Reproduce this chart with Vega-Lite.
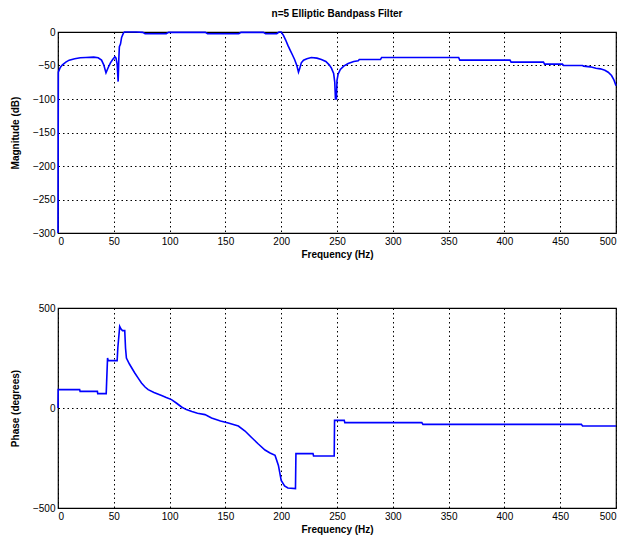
{
  "$schema": "https://vega.github.io/schema/vega-lite/v6.json",
  "background": "white",
  "padding": {"left": 9, "top": 8, "right": 8, "bottom": 5},
  "spacing": 42,
  "datasets": {
    "mag": [
      {"f":0,"db":-300},{"f":0.3,"db":-60},{"f":2,"db":-53},{"f":4,"db":-49},{"f":7,"db":-45},{"f":10,"db":-42},{"f":15,"db":-40},{"f":20,"db":-38.5},{"f":25,"db":-38},{"f":32,"db":-37.5},{"f":36,"db":-38.5},{"f":39,"db":-42},{"f":41,"db":-49},{"f":43,"db":-61},{"f":45,"db":-53},{"f":47,"db":-46},{"f":49,"db":-41},{"f":51,"db":-37},{"f":52,"db":-39},{"f":53,"db":-48},{"f":53.9,"db":-74},{"f":54.5,"db":-40},{"f":55,"db":-22},{"f":56,"db":-18},{"f":57,"db":-8},{"f":58.5,"db":-2},{"f":59.5,"db":0},
      {"f":70,"db":0},{"f":76,"db":-0.5},{"f":78,"db":-2.5},{"f":97,"db":-2.5},{"f":99,"db":-0.5},{"f":132,"db":-0.5},{"f":134,"db":-2.5},{"f":162,"db":-2.5},{"f":164,"db":-0.5},{"f":184,"db":-0.5},{"f":186,"db":-2.5},{"f":196,"db":-2.5},{"f":198,"db":0},{"f":200,"db":0},
      {"f":202,"db":-5},{"f":204,"db":-12},{"f":206,"db":-20},{"f":208,"db":-27},{"f":210,"db":-34},{"f":212,"db":-41},{"f":214,"db":-50},{"f":215.5,"db":-60},{"f":216.5,"db":-55},{"f":218,"db":-46},{"f":220,"db":-42},{"f":223,"db":-40},{"f":227,"db":-38},{"f":232,"db":-39},{"f":236,"db":-41},{"f":240,"db":-44},{"f":243,"db":-49},{"f":245,"db":-54},{"f":247,"db":-62},{"f":248,"db":-75},{"f":248.6,"db":-100},{"f":249.5,"db":-100},{"f":250,"db":-72},{"f":251,"db":-63},{"f":253,"db":-56},{"f":256,"db":-51},{"f":260,"db":-47},{"f":265,"db":-44},{"f":269,"db":-43},{"f":270,"db":-41},{"f":289,"db":-41},{"f":290,"db":-38},{"f":359,"db":-38},{"f":360,"db":-42},{"f":405,"db":-42},{"f":406,"db":-45},{"f":435,"db":-45},{"f":436,"db":-48},{"f":452,"db":-48},{"f":453,"db":-50},{"f":470,"db":-50},{"f":471,"db":-51},{"f":477,"db":-52},{"f":482,"db":-54},{"f":486,"db":-55},{"f":490,"db":-57},{"f":493,"db":-60},{"f":496,"db":-65},{"f":498,"db":-71},{"f":500,"db":-80}
    ],
    "phase": [
      {"f":0,"deg":0},{"f":0.2,"deg":92},{"f":19.4,"deg":92},{"f":19.8,"deg":83},{"f":35.3,"deg":83},{"f":35.6,"deg":72},{"f":43.2,"deg":72},{"f":43.6,"deg":133},{"f":44.4,"deg":250},{"f":45,"deg":237},{"f":53,"deg":237},{"f":53.6,"deg":300},{"f":55.3,"deg":408},{"f":56.5,"deg":395},{"f":57.8,"deg":387},{"f":59.8,"deg":387},{"f":60.5,"deg":300},{"f":61.3,"deg":250},{"f":64,"deg":220},{"f":68.8,"deg":175},{"f":72,"deg":148},{"f":74.8,"deg":125},{"f":78,"deg":105},{"f":80.8,"deg":92},{"f":86,"deg":78},{"f":92.8,"deg":62},{"f":97,"deg":52},{"f":101.7,"deg":42},{"f":106,"deg":25},{"f":110.7,"deg":5},{"f":115,"deg":-8},{"f":120,"deg":-18},{"f":125,"deg":-26},{"f":131.7,"deg":-33},{"f":137.6,"deg":-50},{"f":145.6,"deg":-65},{"f":152.6,"deg":-75},{"f":161.6,"deg":-90},{"f":167.6,"deg":-115},{"f":173,"deg":-145},{"f":179.5,"deg":-180},{"f":185.5,"deg":-210},{"f":190,"deg":-225},{"f":194.5,"deg":-237},{"f":197.5,"deg":-287},{"f":200,"deg":-362},{"f":203,"deg":-390},{"f":206,"deg":-400},{"f":212.8,"deg":-403},{"f":213.2,"deg":-228},{"f":228.5,"deg":-228},{"f":229,"deg":-240},{"f":247.5,"deg":-240},{"f":247.8,"deg":-62},{"f":256.5,"deg":-62},{"f":257,"deg":-73},{"f":326,"deg":-73},{"f":327,"deg":-82},{"f":469,"deg":-82},{"f":470,"deg":-90},{"f":500,"deg":-90}
    ]
  },
  "config": {
    "font": "Liberation Sans Narrow, Liberation Sans",
    "view": {"stroke": "black", "strokeWidth": 1.2},
    "axis": {
      "labelFont": "Liberation Sans Narrow, Liberation Sans",
      "titleFont": "Liberation Sans Narrow, Liberation Sans",
      "labelFontSize": 10,
      "titleFontSize": 10,
      "titleFontWeight": "bold",
      "labelColor": "black",
      "titleColor": "black",
      "domain": false,
      "ticks": false,
      "labelPadding": 3,
      "grid": true,
      "gridColor": "black",
      "gridDash": [1.5, 3],
      "gridWidth": 1,
      "gridOpacity": 1
    },
    "title": {"font": "Liberation Sans Narrow, Liberation Sans", "fontSize": 10, "fontWeight": "bold", "color": "black"}
  },
  "vconcat": [
    {
      "title": {"text": "n=5 Elliptic Bandpass Filter", "anchor": "middle", "offset": 8},
      "width": 558,
      "height": 201,
      "data": {"name": "mag"},
      "mark": {"type": "line", "color": "#0000ff", "strokeWidth": 1.6, "clip": false},
      "encoding": {
        "x": {"field": "f", "type": "quantitative", "scale": {"domain": [0, 500], "nice": false, "zero": false},
              "axis": {"values": [0,50,100,150,200,250,300,350,400,450,500], "title": "Frequency (Hz)", "titlePadding": 3}},
        "y": {"field": "db", "type": "quantitative", "scale": {"domain": [-300, 0], "nice": false},
              "axis": {"values": [-300,-250,-200,-150,-100,-50,0], "title": "Magnitude (dB)", "titlePadding": 12}}
      }
    },
    {
      "width": 558,
      "height": 200,
      "data": {"name": "phase"},
      "mark": {"type": "line", "color": "#0000ff", "strokeWidth": 1.6, "clip": false},
      "encoding": {
        "x": {"field": "f", "type": "quantitative", "scale": {"domain": [0, 500], "nice": false, "zero": false},
              "axis": {"values": [0,50,100,150,200,250,300,350,400,450,500], "title": "Frequency (Hz)", "titlePadding": 3}},
        "y": {"field": "deg", "type": "quantitative", "scale": {"domain": [-500, 500], "nice": false},
              "axis": {"values": [-500,0,500], "title": "Phase (degrees)", "titlePadding": 12}}
      }
    }
  ]
}
